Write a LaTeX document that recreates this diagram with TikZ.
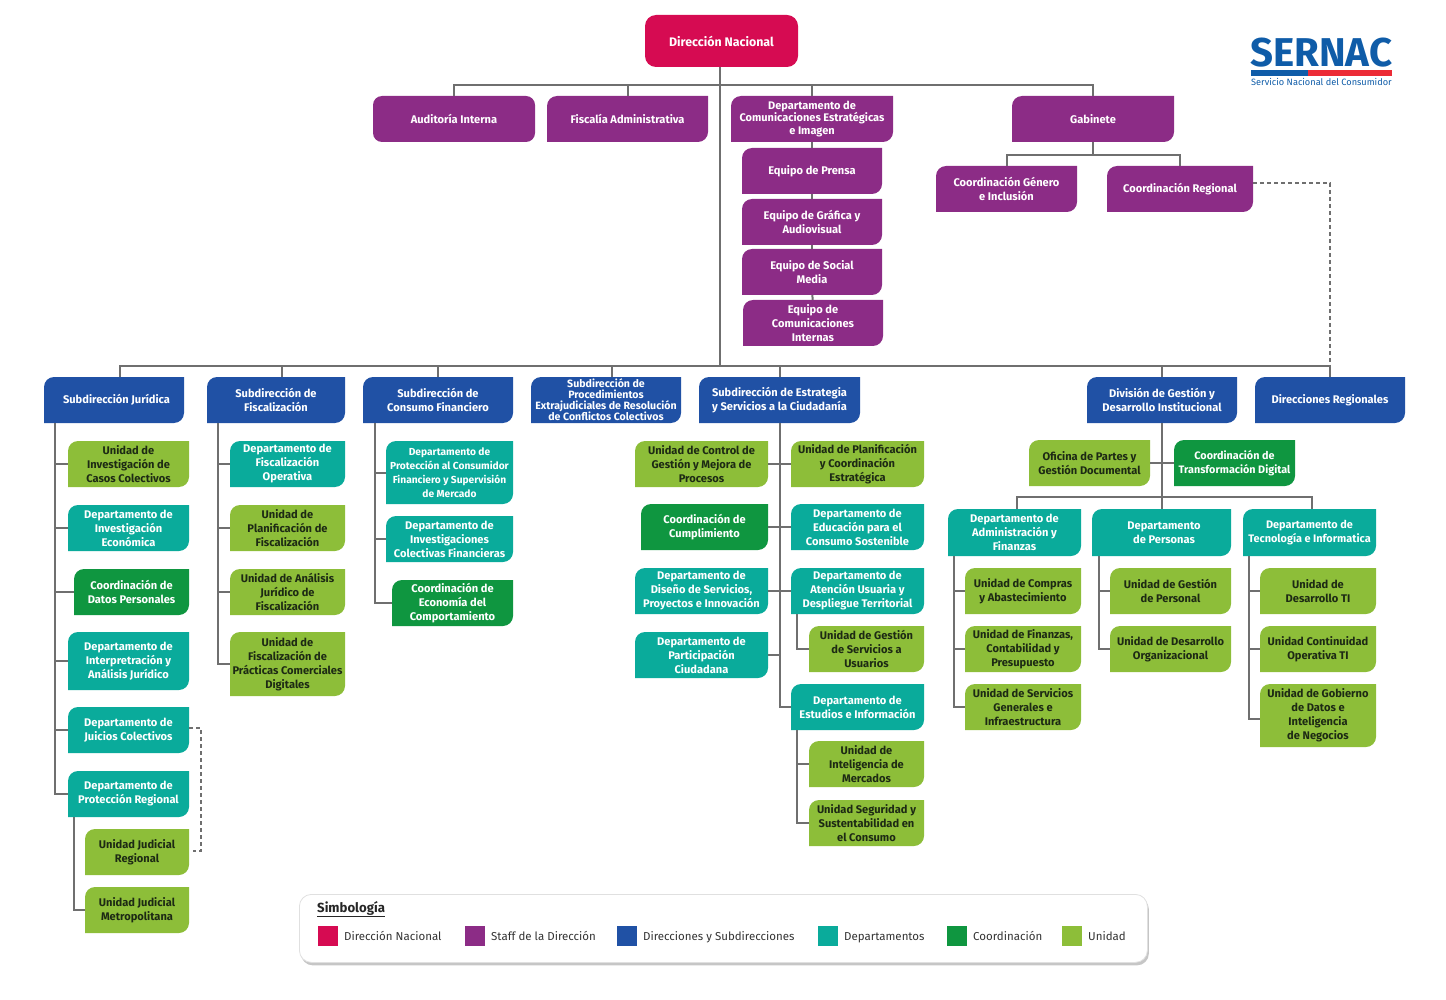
\documentclass[tikz,border=0pt]{standalone}
\usepackage{fontspec}
\setmainfont{Fira Sans}
\usepackage{xcolor}
\usetikzlibrary{positioning,shadows,calc}
\definecolor{rojo}{HTML}{D60B52}
\definecolor{morado}{HTML}{8C2C86}
\definecolor{azul}{HTML}{2051A5}
\definecolor{turq}{HTML}{0AAB9B}
\definecolor{verde}{HTML}{0F9640}
\definecolor{lima}{HTML}{8DBE39}
\definecolor{linea}{HTML}{6F6F6F}
\definecolor{tinta}{HTML}{1D2A14}
\definecolor{logoazul}{HTML}{0F5CA8}
\definecolor{logorojo}{HTML}{EC2B36}
\newcommand{\leafstrut}{\rule{0pt}{14pt}}
\tikzset{
  leaf/.style={inner sep=0pt, outer sep=0pt, align=center,
    font=\fontsize{11.1}{14}\selectfont\bfseries, text=white,
    execute at begin node={\leafstrut},
    path picture={
      \fill[#1] (path picture bounding box.south west)
        -- ([yshift=-10pt]path picture bounding box.north west) arc[start angle=180, end angle=90, radius=10pt]
        -- (path picture bounding box.north east)
        -- ([yshift=10pt]path picture bounding box.south east) arc[start angle=0, end angle=-90, radius=10pt]
        -- cycle;
    }},
  wh/.style 2 args={minimum width=#1pt, minimum height=#2pt},
  single/.style={/utils/exec={\let\leafstrut\relax}},
  staff/.style={leaf=morado},
  subdir/.style={leaf=azul},
  dept/.style={leaf=turq},
  coord/.style={leaf=verde},
  unit/.style={leaf=lima, text=tinta},
  ln/.style={draw=linea, line width=2pt},
  dsh/.style={draw=linea, line width=2pt, dash pattern=on 4pt off 3pt},
  swatch/.style={inner sep=0pt, outer sep=0pt, minimum size=20pt},
  swtext/.style={font=\fontsize{11.5}{13}\selectfont, text=black!80, inner sep=0pt, text height=10pt, text depth=2pt},
}

\begin{document}
\begin{tikzpicture}[x=1pt, y=-1pt]
\useasboundingbox (0,0) rectangle (1446,1000);

% cabeza y staff
\node[anchor=north west, inner sep=0pt, outer sep=0pt, wh={153}{52}, fill=rojo, rounded corners=11pt, text=white,
      font=\fontsize{12.4}{14}\selectfont\bfseries] (dn) at (645,15) {Dirección Nacional};
\node[anchor=north west, inner sep=0pt, outer sep=0pt, wh={162}{46}, fill=morado, rounded corners=9pt, text=white,
      font=\fontsize{11.1}{14}\selectfont\bfseries] (aud) at (373,96) {Auditoría Interna};
\node[staff, single, wh={161}{46}, right=12pt of aud] (fis) {Fiscalía Administrativa};
\node[staff, wh={162}{46}, right=23pt of fis, font=\fontsize{11}{12.4}\selectfont\bfseries] (com) {Departamento de\\Comunicaciones Estratégicas\\e Imagen};
\node[staff, single, wh={162}{46}, anchor=north west] (gab) at (1012,96) {Gabinete};

\node[staff, single, wh={140}{46}, below right=6pt and 11pt of com.south west] (epre) {Equipo de Prensa};
\node[staff, wh={140}{46}, below=5pt of epre] (egra) {Equipo de Gráfica y\\Audiovisual};
\node[staff, wh={140}{46}, below=4pt of egra] (esoc) {Equipo de Social\\Media};
\node[staff, wh={140}{46}, below=5pt of esoc, xshift=1pt] (eint) {Equipo de\\Comunicaciones\\Internas};

\node[staff, wh={141}{46}, anchor=north west] (gen) at (936,166) {Coordinación Género\\e Inclusión};
\node[staff, single, wh={146}{46}, right=30pt of gen] (cre) {Coordinación Regional};

% subdirecciones
\node[subdir, single, wh={140}{46}, anchor=north west] (jur) at (44,377) {\hspace{5pt}Subdirección Jurídica};
\node[subdir, wh={138}{46}, right=23pt of jur] (fsc) {Subdirección de\\Fiscalización};
\node[subdir, wh={150}{46}, right=18pt of fsc] (cons) {Subdirección de\\Consumo Financiero};
\node[subdir, single, wh={150}{46}, right=18pt of cons, font=\fontsize{10.6}{11}\selectfont\bfseries] (proc) {Subdirección de\\Procedimientos\\Extrajudiciales de Resolución\\de Conflictos Colectivos};
\node[subdir, wh={161}{46}, right=18pt of proc] (est) {Subdirección de Estrategia\\y Servicios a la Ciudadanía};
\node[subdir, wh={150}{46}, anchor=north west] (div) at (1087,377) {División de Gestión y\\Desarrollo Institucional};
\node[subdir, single, wh={150}{46}, right=18pt of div] (dreg) {Direcciones Regionales};

% columna juridica
\node[unit, wh={121}{46}, below right=18pt and 24pt of jur.south west] (uinv) {Unidad de\\Investigación de\\Casos Colectivos};
\node[dept, wh={121}{46}, below=18pt of uinv] (dinv) {Departamento de\\Investigación\\Económica};
\node[coord, wh={115}{46}, below left=18pt and 0pt of dinv.south east] (cdat) {Coordinación de\\Datos Personales};
\node[dept, wh={121}{58}, below left=17pt and 0pt of cdat.south east] (dint) {Departamento de\\Interpretración y\\Análisis Jurídico};
\node[dept, wh={121}{46}, below=17pt of dint] (djui) {Departamento de\\Juicios Colectivos};
\node[dept, wh={121}{46}, below=18pt of djui] (dpro) {Departamento de\\Protección Regional};
\node[unit, wh={104}{46}, below left=12pt and 0pt of dpro.south east] (ujre) {Unidad Judicial\\Regional};
\node[unit, wh={104}{46}, below=12pt of ujre] (ujme) {Unidad Judicial\\Metropolitana};

% columna fiscalizacion
\node[dept, wh={115}{46}, below right=18pt and 23pt of fsc.south west] (dfis) {Departamento de\\Fiscalización\\Operativa};
\node[unit, wh={115}{46}, below=18pt of dfis] (upla) {Unidad de\\Planificación de\\Fiscalización};
\node[unit, wh={115}{46}, below=18pt of upla] (uana) {Unidad de Análisis\\Jurídico de\\Fiscalización};
\node[unit, wh={115}{64}, below=17pt of uana] (upra) {Unidad de\\Fiscalización de\\Prácticas Comerciales\\Digitales};

% columna consumo financiero
\node[dept, wh={127}{63}, below right=18pt and 23pt of cons.south west, font=\fontsize{10.2}{14}\selectfont\bfseries] (dprc) {Departamento de\\Protección al Consumidor\\Financiero y Supervisión\\de Mercado};
\node[dept, wh={127}{46}, below=12pt of dprc] (dcol) {Departamento de\\Investigaciones\\Colectivas Financieras};
\node[coord, wh={121}{46}, below left=18pt and 0pt of dcol.south east] (ceco) {Coordinación de\\Economía del\\Comportamiento};

% columna estrategia
\node[unit, wh={133}{46}, below right=18pt and 92pt of est.south west] (uple) {Unidad de Planificación\\y Coordinación\\Estratégica};
\node[dept, wh={133}{46}, below=17pt of uple] (dedu) {Departamento de\\Educación para el\\Consumo Sostenible};
\node[dept, wh={133}{46}, below=18pt of dedu] (date) {Departamento de\\Atención Usuaria y\\Despliegue Territorial};
\node[unit, wh={115}{46}, below left=12pt and 0pt of date.south east] (ugsu) {Unidad de Gestión\\de Servicios a\\Usuarios};
\node[dept, wh={133}{46}, below left=12pt and 0pt of ugsu.south east] (dest) {Departamento de\\Estudios e Información};
\node[unit, wh={115}{46}, below left=11pt and 0pt of dest.south east] (uime) {Unidad de\\Inteligencia de\\Mercados};
\node[unit, wh={115}{46}, below=13pt of uime] (usus) {Unidad Seguridad y\\Sustentabilidad en\\el Consumo};

\node[unit, wh={133}{46}, left=23pt of uple] (uctl) {Unidad de Control de\\Gestión y Mejora de\\Procesos};
\node[coord, wh={127}{46}, left=23pt of dedu] (ccum) {Coordinación de\\Cumplimiento};
\node[dept, wh={133}{46}, left=23pt of date] (ddis) {Departamento de\\Diseño de Servicios,\\Proyectos e Innovación};
\node[dept, wh={133}{46}, below=18pt of ddis] (dpar) {Departamento de\\Participación\\Ciudadana};

% columna division
\node[coord, wh={121}{46}, below right=17pt and 87pt of div.south west, font=\fontsize{10.8}{14}\selectfont\bfseries] (ctd) {Coordinación de\\Transformación Digital};
\node[unit, wh={121}{46}, left=24pt of ctd] (ofi) {Oficina de Partes y\\Gestión Documental};
\node[dept, wh={139}{47}, below right=23pt and 63pt of ofi.south west] (dper) {\hspace{5pt}Departamento\\\hspace{5pt}de Personas};
\node[dept, wh={133}{47}, left=11pt of dper] (dadm) {Departamento de\\Administración y\\Finanzas};
\node[dept, wh={133}{47}, right=12pt of dper, font=\fontsize{10.9}{14}\selectfont\bfseries] (dtec) {Departamento de\\Tecnología e Informatica};

\node[unit, wh={116}{46}, below right=12pt and 17pt of dadm.south west] (ucom) {Unidad de Compras\\y Abastecimiento};
\node[unit, wh={116}{46}, below=12pt of ucom] (ufin) {Unidad de Finanzas,\\Contabilidad y\\Presupuesto};
\node[unit, wh={116}{46}, below=12pt of ufin] (user) {Unidad de Servicios\\Generales e\\Infraestructura};

\node[unit, wh={121}{46}, below right=12pt and 18pt of dper.south west] (ugpe) {Unidad de Gestión\\de Personal};
\node[unit, wh={121}{46}, below=12pt of ugpe] (udor) {Unidad de Desarrollo\\Organizacional};

\node[unit, wh={116}{46}, below right=12pt and 17pt of dtec.south west] (udti) {Unidad de\\Desarrollo TI};
\node[unit, wh={116}{46}, below=12pt of udti] (ucop) {Unidad Continuidad\\Operativa TI};
\node[unit, wh={116}{63}, below=12pt of ucop] (ugob) {Unidad de Gobierno\\de Datos e\\Inteligencia\\de Negocios};

% conectores
\coordinate (tj) at ([xshift=-2pt, yshift=-18pt]dn.south);
\coordinate (mj) at ([xshift=-2pt, yshift=-299pt]dn.south);
\coordinate (gj) at ([yshift=-13pt]gab.south);
\coordinate (dj) at ([yshift=-74pt]div.south);

\draw[dsh] ([yshift=6pt]cre.east) -| (dreg.north);
\draw[dsh] ([yshift=2pt]djui.east) -- ++(12,0) |- ([xshift=4pt, yshift=1pt]ujre.east);

\draw[ln] ([xshift=-2pt]dn.south) -- (mj);
\foreach \n in {aud,fis,com,gab}
  \draw[ln] (\n.north) |- (tj);
\draw[ln] (gj) -- (gab.south);
\foreach \n in {gen,cre}
  \draw[ln] (\n.north) |- (gj);
\draw[ln] (com) -- (epre);
\draw[ln] (epre) -- (egra);
\draw[ln] (egra) -- (esoc);
\draw[ln] (esoc) -- (eint);

\foreach \n in {jur,fsc,proc}
  \draw[ln] ([xshift=6pt]\n.north) |- (mj);
\foreach \n in {cons,est,div,dreg}
  \draw[ln] (\n.north) |- (mj);

\foreach \n in {uinv,dinv,cdat,dint,djui,dpro}
  \draw[ln] ([xshift=11pt]jur.south west) |- (\n.west);
\draw[ln] ([xshift=6pt]dpro.south west) |- (ujme.west);
\foreach \n in {dfis,upla,uana,upra}
  \draw[ln] ([xshift=11pt]fsc.south west) |- (\n.west);
\foreach \n in {dprc,dcol,ceco}
  \draw[ln] ([xshift=12pt]cons.south west) |- (\n.west);

\draw[ln] (est.south) |- (dest.west);
\foreach \n in {uple,dedu,date}
  \draw[ln] (est.south) |- (\n.west);
\foreach \n in {uctl,ccum,ddis,dpar}
  \draw[ln] (est.south) |- (\n.east);
\draw[ln] ([xshift=6pt]date.south west) |- (ugsu.west);
\foreach \n in {uime,usus}
  \draw[ln] ([xshift=6pt]dest.south west) |- (\n.west);

\draw[ln] (div.south) -- (dj);
\draw[ln] (div.south) |- (ofi.east);
\draw[ln] (div.south) |- (ctd.west);
\draw[ln] ([xshift=2pt]dadm.north) |- (dj);
\draw[ln] (dper.north) |- (dj);
\draw[ln] ([xshift=2pt]dtec.north) |- (dj);
\foreach \n in {ucom,ufin,user}
  \draw[ln] ([xshift=6pt]dadm.south west) |- (\n.west);
\foreach \n in {ugpe,udor}
  \draw[ln] ([xshift=7pt]dper.south west) |- (\n.west);
\foreach \n in {udti,ucop}
  \draw[ln] ([xshift=6pt]dtec.south west) |- (\n.west);
\draw[ln] ([xshift=6pt]dtec.south west) |- ([yshift=-3pt]ugob.west);

% logo
\node[anchor=west, inner sep=0pt, text=logoazul, font=\fontsize{40.2}{41}\selectfont\bfseries] (logo) at (1250,53) {SERNAC};
\node[anchor=north west, inner sep=0pt, outer sep=0pt, fill=logoazul, minimum width=57pt, minimum height=6pt] (barb) at (1251,70) {};
\node[inner sep=0pt, outer sep=0pt, fill=logorojo, minimum width=84pt, minimum height=6pt, right=0pt of barb] (barr) {};
\node[anchor=west, inner sep=0pt, text=logoazul, font=\fontsize{9.2}{11}\selectfont] (lsub) at (1251,82) {Servicio Nacional del Consumidor};

% simbologia
\node[anchor=north west, wh={848}{68}, inner sep=0pt, fill=white, draw=black!12, line width=.8pt, rounded corners=12pt,
      drop shadow={shadow xshift=1.5pt, shadow yshift=-3pt, opacity=.45}] (leyenda) at (299,894) {};
\node[anchor=west, inner sep=0pt, font=\fontsize{13.2}{15}\selectfont\bfseries, text=black!85] (stit) at (317,909) {\underline{Simbología}};
\foreach \sx/\sc/\st in {318/rojo/Dirección Nacional, 465/morado/Staff de la Dirección, 617/azul/Direcciones y Subdirecciones,
                         818/turq/Departamentos, 947/verde/Coordinación, 1062/lima/Unidad}{
  \node[swatch, anchor=north west, fill=\sc] (s\sc) at (\sx,926) {};
  \node[swtext, right=6pt of s\sc] (t\sc) {\st};
}
\end{tikzpicture}
\end{document}
